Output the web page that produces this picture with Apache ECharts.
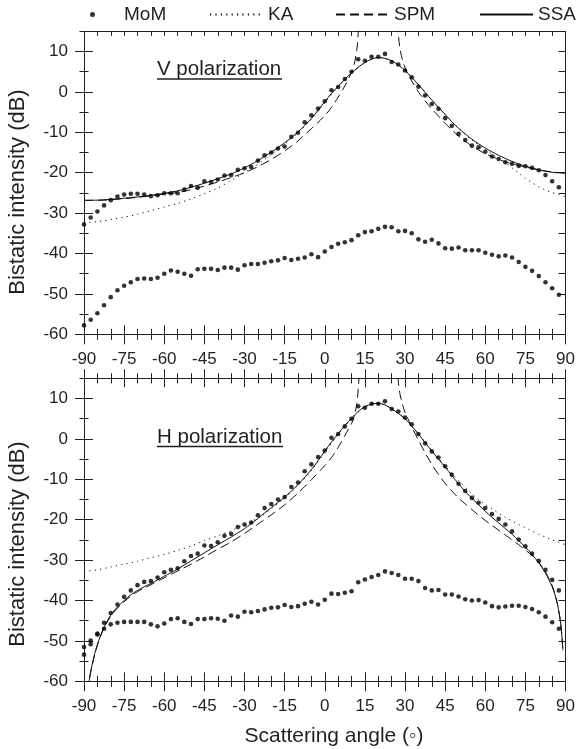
<!DOCTYPE html>
<html><head><meta charset="utf-8">
<script src="https://cdn.jsdelivr.net/npm/echarts@6/dist/echarts.min.js"></script>
<style>html,body{margin:0;padding:0;background:#fff}#c{width:578px;height:749px}</style>
</head><body><div id="c"></div>
<script>
// ---- data ----
const angles = [
 -90,-87.5,-85,-82.5,-80,-77.5,-75,-72.5,-70,-67.5,-65,-62.5,
 -60,-57.5,-55,-52.5,-50,-47.5,-45,-42.5,-40,-37.5,-35,-32.5,
 -30,-27.5,-25,-22.5,-20,-17.5,-15,-12.5,-10,-7.5,-5,-2.5,
 0,2.5,5,7.5,10,12.5,15,17.5,20,22.5,25,27.5,
 30,32.5,35,37.5,40,42.5,45,47.5,50,52.5,55,57.5,
 60,62.5,65,67.5,70,72.5,75,77.5,80,82.5,85,87.5];
const momV_upper = [
 -32.8,-31.1,-29.6,-28.1,-26.8,-25.9,-25.4,-25.2,-25.2,-25.4,-25.8,-25.6,
 -25.1,-25.1,-25.1,-24.2,-23.3,-23.7,-22.1,-22.3,-21.7,-20.7,-20.6,-19.3,
 -18.9,-18.6,-17.0,-15.7,-15.0,-14.0,-13.5,-11.1,-10.1,-7.5,-5.8,-4.1,
 -2.3,0.4,1.2,3.2,5.0,8.1,7.7,8.7,8.7,9.4,7.4,6.8,
 5.3,3.6,1.3,-0.9,-3.0,-4.2,-6.5,-8.4,-10.4,-11.9,-13.3,-13.7,
 -14.8,-16.0,-16.6,-17.4,-17.8,-18.3,-18.4,-18.8,-19.4,-20.6,-22.1,-23.6];
const momV_lower = [
 -57.8,-56.4,-54.8,-52.8,-50.8,-49.1,-48.0,-47.1,-46.3,-46.2,-46.3,-46.0,
 -45.0,-44.2,-44.5,-45.0,-45.5,-43.9,-43.8,-43.8,-44.1,-43.5,-43.5,-44.0,
 -42.9,-42.6,-42.6,-42.3,-41.9,-41.7,-41.1,-41.6,-41.3,-41.0,-40.2,-40.9,
 -39.5,-38.4,-37.6,-37.2,-36.7,-35.5,-34.7,-34.5,-33.9,-33.4,-33.5,-34.5,
 -34.4,-35.0,-36.5,-37.1,-36.6,-37.5,-38.7,-38.8,-38.5,-39.2,-39.2,-39.2,
 -39.8,-40.3,-40.7,-40.5,-41.0,-42.1,-43.3,-44.3,-45.6,-47.1,-48.6,-50.2];
const momH_upper = [
 -51.5,-49.9,-48.2,-45.5,-43.1,-41.0,-39.1,-37.5,-36.2,-35.4,-35.2,-34.3,
 -33.0,-32.4,-32.0,-30.3,-29.0,-28.4,-26.4,-26.5,-25.6,-24.0,-23.5,-21.8,
 -21.2,-20.7,-18.9,-17.1,-16.1,-15.0,-14.4,-11.9,-10.8,-8.0,-6.3,-4.5,
 -2.9,0.3,1.2,3.1,5.0,8.1,7.7,8.7,8.7,9.3,7.4,6.8,
 5.3,3.6,1.2,-1.1,-3.1,-4.6,-6.8,-8.9,-11.1,-12.9,-14.6,-15.8,
 -17.1,-18.6,-19.8,-21.2,-22.9,-24.9,-26.6,-28.4,-30.2,-32.4,-34.9,-37.5];
const momH_lower = [
 -53.4,-50.8,-48.4,-47.0,-45.9,-45.5,-45.3,-45.3,-45.3,-45.3,-45.9,-46.4,
 -45.7,-44.6,-44.4,-45.3,-45.8,-44.6,-44.6,-44.4,-44.5,-45.0,-43.7,-44.0,
 -42.8,-42.9,-42.6,-42.2,-41.8,-41.7,-41.1,-41.6,-41.4,-40.8,-40.3,-41.0,
 -39.8,-38.3,-38.4,-38.1,-37.7,-35.5,-34.8,-34.2,-33.7,-32.8,-33.2,-33.7,
 -34.6,-34.6,-35.2,-36.9,-37.5,-37.4,-38.5,-38.5,-39.0,-39.7,-40.0,-39.9,
 -40.5,-41.4,-41.7,-41.5,-41.3,-41.3,-41.6,-42.1,-42.9,-44.0,-45.4,-47.0];

const ssaV_x = [-90,-85,-80,-75,-70,-65,-60,-55,-50,-45,-40,-35,-30,-25,-20,-15,-10,-5,-2.5,0,2.5,5,7.5,10,12.5,15,17.5,20,22.5,25,27.5,30,32.5,35,37.5,40,42.5,45,47.5,50,55,60,65,70,75,80,85,90];
const ssaV_y = [-26.8,-26.8,-26.6,-26.3,-26.0,-25.6,-25.1,-24.5,-23.6,-22.6,-21.5,-20.3,-18.8,-17.0,-14.9,-12.6,-9.9,-6.6,-4.5,-2.4,-0.4,1.4,3.1,4.7,6.1,7.3,8.1,8.5,8.3,7.7,6.7,5.3,3.6,1.8,-0.1,-2.0,-3.8,-5.6,-7.4,-9.0,-11.7,-13.9,-15.7,-17.2,-18.4,-19.3,-19.9,-20.1];
const kaV_x = [-90,-85,-80,-75,-70,-65,-60,-55,-50,-45,-40,-35,-30,-25,-20,-15,-10,-5,0,5,10,15,20,25,30,35,40,45,50,55,60,62.5,65,67.5,70,72.5,75,77.5,80,82.5,85,87.5,90];
const kaV_y = [-32.5,-32.1,-31.6,-31.0,-30.3,-29.4,-28.5,-27.6,-26.5,-25.2,-23.8,-21.9,-20.0,-17.9,-15.5,-12.9,-10.1,-6.7,-2.7,1.3,4.6,7.2,8.5,7.7,5.3,1.8,-2.0,-5.6,-9.0,-11.9,-14.3,-15.4,-16.5,-17.6,-18.8,-20.1,-21.4,-22.5,-23.5,-24.3,-24.9,-25.4,-25.9];
const spmV_x = [-90,-80,-70,-60,-55,-50,-45,-40,-35,-30,-25,-20,-15,-10,-5,0,2.5,5,7.5,10,11,12,12.5,13,13.5,26.5,27,27.5,28,29,30,31,32.5,35,37.5,40,42.5,45,47.5,50,52.5,55,57.5,60,62.5,65,67.5,70,75,80,85,90];
const spmV_y = [-26.9,-26.7,-26.1,-25.3,-24.9,-24.2,-23.3,-22.3,-21.2,-20.0,-18.5,-16.7,-14.6,-12.1,-9.1,-5.9,-3.8,-1.3,1.5,4.8,6.8,10.5,14.5,20,30,30,22,14.5,11.2,8.0,6.0,4.5,2.7,0.0,-2.2,-4.2,-6.0,-7.8,-9.4,-10.9,-12.2,-13.4,-14.4,-15.3,-16.0,-16.7,-17.3,-17.8,-18.6,-19.3,-19.8,-20.1];

const ssaH_x = [-89,-88,-87.5,-87,-86,-85,-84,-82.5,-80,-77.5,-75,-72.5,-70,-67.5,-65,-62.5,-60,-57.5,-55,-50,-45,-40,-35,-30,-25,-20,-15,-10,-5,-2.5,0,2.5,5,7.5,10,12.5,15,17.5,20,22.5,25,27.5,30,32.5,35,37.5,40,42.5,45,47.5,50,52.5,55,57.5,60,62.5,65,67.5,70,72.5,75,77.5,80,82.5,85,86,87,88,88.5,89];
const ssaH_y = [-66,-59.5,-57.6,-56.0,-53.2,-50.9,-49.0,-46.6,-43.6,-41.6,-40.0,-38.6,-37.5,-36.6,-35.8,-34.9,-34.0,-33.1,-32.2,-30.2,-28.2,-26.2,-24.3,-22.2,-19.7,-17.0,-14.4,-11.3,-7.6,-5.4,-3.0,-0.8,1.3,3.3,5.1,6.8,8.0,8.6,8.8,8.4,7.5,6.3,5.0,3.2,1.2,-0.9,-3.0,-5.0,-7.0,-9.1,-11.1,-13.0,-14.7,-16.3,-17.9,-19.4,-20.8,-22.2,-23.6,-25.2,-26.8,-28.6,-30.7,-33.2,-36.6,-38.5,-41.0,-44.8,-47.8,-52.3];
const kaH_x = [-90,-85,-80,-75,-70,-65,-60,-55,-50,-45,-40,-35,-30,-25,-20,-15,-10,-5,0,5,10,15,20,25,30,35,40,45,50,55,57.5,60,62.5,65,67.5,70,72.5,75,77.5,80,82.5,85,87.5,90];
const kaH_y = [-32.8,-32.4,-31.7,-31.0,-30.3,-29.4,-28.6,-27.6,-26.5,-25.2,-24.0,-22.7,-21.3,-19.6,-17.3,-14.6,-11.5,-7.8,-3.3,1.1,5.0,7.9,8.8,7.5,5.0,1.2,-2.9,-6.7,-10.3,-13.6,-15.0,-16.2,-17.3,-18.4,-19.4,-20.3,-21.2,-22.0,-22.8,-23.6,-24.3,-25.0,-25.6,-26.2];
const spmH_x = [-89,-88,-87,-86,-85,-84,-82.5,-80,-77.5,-75,-72.5,-70,-67.5,-65,-62.5,-60,-55,-50,-45,-40,-35,-30,-25,-20,-15,-10,-5,0,2.5,5,7.5,10,11,12,12.5,13,13.5,26.5,27,27.5,28,29,30,32.5,35,37.5,40,42.5,45,47.5,50,52.5,55,57.5,60,62.5,65,67.5,70,72.5,75,77.5,80,82.5,85,86,87,88,88.5,89];
const spmH_y = [-66,-59.6,-56.2,-53.4,-51.1,-49.2,-46.8,-43.9,-41.9,-40.3,-38.9,-37.8,-36.9,-36.1,-35.2,-34.4,-32.7,-31.0,-29.2,-27.3,-25.5,-23.4,-21.1,-18.8,-16.3,-13.4,-10.1,-6.6,-4.6,-2.1,0.8,3.8,5.5,8.8,12.3,17.5,28,30,22,14.3,11.5,8.6,6.6,3.0,-0.3,-3.4,-6.3,-8.8,-11.0,-12.9,-14.6,-16.1,-17.5,-18.9,-20.2,-21.4,-22.6,-23.8,-25.0,-26.2,-27.5,-28.9,-30.6,-32.9,-36.3,-38.3,-40.9,-44.7,-47.7,-52.2];

// tick positions
const xMajorTicks = [-90,-75,-60,-45,-30,-15,0,15,30,45,60,75,90];
const xMinorTicks = [-85,-80,-70,-65,-55,-50,-40,-35,-25,-20,-10,-5,5,10,20,25,35,40,50,55,65,70,80,85];
const xFiveTicks = [-85,-80,-75,-70,-65,-60,-55,-50,-45,-40,-35,-30,-25,-20,-15,-10,-5,0,5,10,15,20,25,30,35,40,45,50,55,60,65,70,75,80,85];
const yMajorTicks = [-60,-50,-40,-30,-20,-10,0,10];
const yMinorTicks = [-55,-45,-35,-25,-15,-5,5,15];
const yFiveTicks = [-55,-50,-45,-40,-35,-30,-25,-20,-15,-10,-5,0,5,10];
const legendNames = ['MoM', 'KA', 'SPM', 'SSA'];

// ---- chart ----
const AX = '#231f20', TXT = '#231f20', LINE = '#111';
const FONT = 'Liberation Sans, Arial, sans-serif';
const zip = (xs, ys) => xs.map((x, i) => [x, ys[i]]);

const grid = [
  {left: 84, top: 31.3, width: 485, height: 303},
  {left: 84, top: 378.3, width: 485, height: 303}
];
const xAxis = [], yAxis = [];
function xAx(g, pos, ticks, inside, len, labels, line) {
  xAxis.push({type: 'value', gridIndex: g, position: pos, min: -90, max: 90, interval: 15,
    axisLine: {show: line, onZero: false, lineStyle: {color: AX, width: 1}},
    axisTick: {show: true, inside: inside, length: len, customValues: ticks, lineStyle: {color: AX, width: 1}},
    axisLabel: labels ? {show: true, customValues: xMajorTicks, margin: 17, fontSize: 17, color: TXT, fontFamily: FONT} : {show: false},
    splitLine: {show: false}});
  return xAxis.length - 1;
}
function yAx(g, pos, ticks, inside, len, labels, line) {
  yAxis.push({type: 'value', gridIndex: g, position: pos, min: -60, max: 15, interval: 5,
    axisLine: {show: line, onZero: false, lineStyle: {color: AX, width: 1}},
    axisTick: {show: true, inside: inside, length: len, customValues: ticks, lineStyle: {color: AX, width: 1}},
    axisLabel: labels ? {show: true, customValues: yMajorTicks, margin: 16, fontSize: 17, color: TXT, fontFamily: FONT} : {show: false},
    splitLine: {show: false}});
  return yAxis.length - 1;
}
const px = [], py = [];
for (let g = 0; g < 2; g++) {
  px[g] = xAx(g, 'bottom', xMajorTicks, false, 10, true, true);
  xAx(g, 'bottom', xMajorTicks, true, 9, false, false);
  xAx(g, 'bottom', xMinorTicks, false, 5.5, false, false);
  xAx(g, 'bottom', xMinorTicks, true, 5.5, false, false);
  if (g === 0) {
    xAx(g, 'top', xFiveTicks, true, 4.5, false, true);
  } else {
    xAx(g, 'top', xMajorTicks, false, 9, false, true);
    xAx(g, 'top', xMajorTicks, true, 9, false, false);
    xAx(g, 'top', xMinorTicks, false, 5, false, false);
    xAx(g, 'top', xMinorTicks, true, 5, false, false);
  }
  py[g] = yAx(g, 'left', yMajorTicks, false, 9, true, true);
  yAx(g, 'left', yMajorTicks, true, 9, false, false);
  yAx(g, 'left', yMinorTicks, false, 4.5, false, false);
  yAx(g, 'left', yMinorTicks, true, 4.5, false, false);
  yAx(g, 'right', yFiveTicks, true, 7, false, true);
}

function dots(g, vals) {
  return {type: 'scatter', name: 'MoM', xAxisIndex: px[g], yAxisIndex: py[g],
    symbol: 'circle', symbolSize: 4.6, itemStyle: {color: '#000'}, data: zip(angles, vals), z: 3};
}
function curve(g, name, xs, ys, type) {
  return {type: 'line', name: name, xAxisIndex: px[g], yAxisIndex: py[g],
    symbol: 'none', smooth: 0.3, clip: true,
    lineStyle: {color: LINE, width: 1, type: type}, itemStyle: {color: LINE},
    data: zip(xs, ys), z: 2};
}
const DOT = [1.2, 4.2], DASH = [9, 5];
const series = [
  dots(0, momV_upper), dots(0, momV_lower),
  curve(0, 'KA', kaV_x, kaV_y, DOT), curve(0, 'SPM', spmV_x, spmV_y, DASH), curve(0, 'SSA', ssaV_x, ssaV_y, 'solid'),
  dots(1, momH_upper), dots(1, momH_lower),
  curve(1, 'KA', kaH_x, kaH_y, DOT), curve(1, 'SPM', spmH_x, spmH_y, DASH), curve(1, 'SSA', ssaH_x, ssaH_y, 'solid')
];

const hiddenSym = {color: 'rgba(0,0,0,0)', borderWidth: 0, opacity: 0};
const legendLefts = [90, 209, 335, 479];
const legend = legendNames.map((n, i) => ({
  data: [i === 0 ? {name: n} : {name: n, itemStyle: hiddenSym}],
  left: legendLefts[i], top: 5, padding: 0,
  itemWidth: 53, itemHeight: 5,
  textStyle: {fontSize: 19, color: TXT, fontFamily: FONT}
}));

const chart = echarts.init(document.getElementById('c'), null, {renderer: 'canvas'});
chart.setOption({
  animation: false,
  backgroundColor: '#fff',
  textStyle: {fontFamily: FONT},
  grid: grid, xAxis: xAxis, yAxis: yAxis, series: series,
  legend: legend,
  graphic: [
    {type: 'text', x: 157, y: 69.3, style: {text: 'V polarization', fontSize: 20.5, fontFamily: FONT, fill: TXT, align: 'left', verticalAlign: 'middle'}},
    {type: 'line', shape: {x1: 157, y1: 79, x2: 282, y2: 79}, style: {stroke: TXT, lineWidth: 1.5}},
    {type: 'text', x: 157, y: 437.5, style: {text: 'H polarization', fontSize: 20.5, fontFamily: FONT, fill: TXT, align: 'left', verticalAlign: 'middle'}},
    {type: 'line', shape: {x1: 157, y1: 446.5, x2: 283, y2: 446.5}, style: {stroke: TXT, lineWidth: 1.5}},
    {type: 'text', x: 18, y: 192, rotation: Math.PI / 2, style: {text: 'Bistatic intensity (dB)', fontSize: 22, fontFamily: FONT, fill: TXT, align: 'center', verticalAlign: 'middle'}},
    {type: 'text', x: 18, y: 544, rotation: Math.PI / 2, style: {text: 'Bistatic intensity (dB)', fontSize: 22, fontFamily: FONT, fill: TXT, align: 'center', verticalAlign: 'middle'}},
    {type: 'text', x: 334, y: 736, style: {text: 'Scattering angle (◦)', fontSize: 21, fontFamily: FONT, fill: TXT, align: 'center', verticalAlign: 'middle'}}
  ]
});
</script></body></html>
